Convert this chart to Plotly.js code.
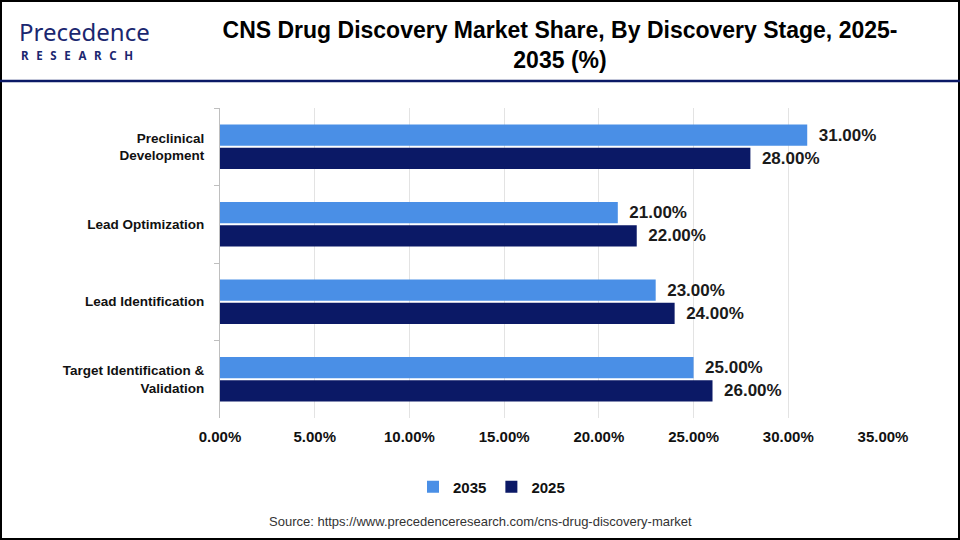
<!DOCTYPE html>
<html>
<head>
<meta charset="utf-8">
<script src="https://cdn.plot.ly/plotly-3.0.1.min.js"></script>
<style>
html,body{margin:0;padding:0;background:#fff;}
#chart{width:960px;height:540px;}
</style>
</head>
<body>
<div id="chart"></div>
<script>
const categories = ["Preclinical<br>Development", "Lead Optimization", "Lead Identification", "Target Identification &<br>Validation"];
const values2035 = [31, 21, 23, 25];
const values2025 = [28, 22, 24, 26];
const seriesNames = ["2035", "2025"];
const xTicks = [0, 5, 10, 15, 20, 25, 30, 35];
const xTickLabels = ["0.00%", "5.00%", "10.00%", "15.00%", "20.00%", "25.00%", "30.00%", "35.00%"];

const W = 960, H = 540;
const m = {l: 220, r: 77, t: 108, b: 122};
const pw = W - m.l - m.r, ph = H - m.t - m.b;
const px = x => (x - m.l) / pw;
const py = y => (H - m.b - y) / ph;

const labelFont = {family: "Arial, 'Liberation Sans', sans-serif", size: 17, color: "#1a1a1a", weight: "bold"};

const traces = [
  {
    type: "bar", orientation: "h", name: seriesNames[0],
    y: categories, x: values2035,
    marker: {color: "#4A8FE6"},
    text: values2035.map(v => "\u2002" + v.toFixed(2) + "%"),
    textposition: "outside", textfont: labelFont, cliponaxis: false,
    hoverinfo: "skip"
  },
  {
    type: "bar", orientation: "h", name: seriesNames[1],
    y: categories, x: values2025,
    marker: {color: "#0B1966"},
    text: values2025.map(v => "\u2002" + v.toFixed(2) + "%"),
    textposition: "outside", textfont: labelFont, cliponaxis: false,
    hoverinfo: "skip"
  }
];

const layout = {
  width: W, height: H,
  margin: m,
  paper_bgcolor: "#fff", plot_bgcolor: "#fff",
  barmode: "group", bargap: 0.4, bargroupgap: 0.08,
  showlegend: true,
  legend: {
    orientation: "h", x: px(413), xanchor: "left",
    y: py(487), yanchor: "middle",
    font: {family: "'Liberation Sans Narrow', 'Arial Narrow', Arial, sans-serif", size: 15, color: "#111", weight: "bold"},
    itemwidth: 30, traceorder: "normal"
  },
  title: {
    text: "CNS Drug Discovery Market Share, By Discovery Stage, 2025-<br>2035 (%)",
    x: 560 / W, xanchor: "center", xref: "container",
    y: 1 - 38 / H, yanchor: "middle", yref: "container",
    font: {family: "'Liberation Sans Narrow', 'Arial Narrow', Arial, sans-serif", size: 23, color: "#000", weight: "bold"}
  },
  xaxis: {
    range: [0, 35], tickvals: xTicks, ticktext: xTickLabels,
    showgrid: true, gridcolor: "#e3e3e3", gridwidth: 1,
    zeroline: false, showline: false, ticks: "",
    ticklabelstandoff: 8,
    tickfont: {family: "'Liberation Sans Narrow', 'Arial Narrow', Arial, sans-serif", size: 15, color: "#111", weight: "bold"},
    fixedrange: true
  },
  yaxis: {
    type: "category", autorange: "reversed",
    showline: true, linecolor: "#bfbfbf", linewidth: 1,
    ticks: "outside", tickson: "boundaries", ticklen: 5, tickcolor: "#bfbfbf",
    showgrid: false,
    tickfont: {family: "Arial, 'Liberation Sans', sans-serif", size: 13.5, color: "#111", weight: "bold"},
    ticklabelstandoff: 12,
    fixedrange: true
  },
  shapes: [
    {type: "rect", xref: "paper", yref: "paper", x0: px(1), x1: px(959), y0: py(539), y1: py(1),
     line: {color: "#000", width: 2}, fillcolor: "rgba(0,0,0,0)", layer: "above"},
    {type: "line", xref: "paper", yref: "paper", x0: px(0), x1: px(960), y0: py(81), y1: py(81),
     line: {color: "#0B1966", width: 2.5}}
  ],
  annotations: [
    {text: "Source: https://www.precedenceresearch.com/cns-drug-discovery-market",
     xref: "paper", yref: "paper", x: px(480), y: py(521), xanchor: "center", yanchor: "middle",
     showarrow: false,
     font: {family: "'Liberation Sans Narrow', 'Arial Narrow', Arial, sans-serif", size: 13, color: "#333"}},
    {text: "Precedence", xref: "paper", yref: "paper", x: px(17), y: py(31), xanchor: "left", yanchor: "middle",
     showarrow: false,
     font: {family: "'Noto Sans', 'DejaVu Sans', sans-serif", size: 24, color: "#1B2770"}},
    {text: "R\u2002\u2009E\u2002\u2009S\u2002\u2009E\u2002\u2009A\u2002\u2009R\u2002\u2009C\u2002\u2009H", xref: "paper", yref: "paper", x: px(19), y: py(55), xanchor: "left", yanchor: "middle",
     showarrow: false,
     font: {family: "'Noto Sans', 'DejaVu Sans', sans-serif", size: 11.5, color: "#1B2770", weight: "bold"}}
  ]
};

Plotly.newPlot("chart", traces, layout, {displayModeBar: false, staticPlot: true});
</script>
</body>
</html>
